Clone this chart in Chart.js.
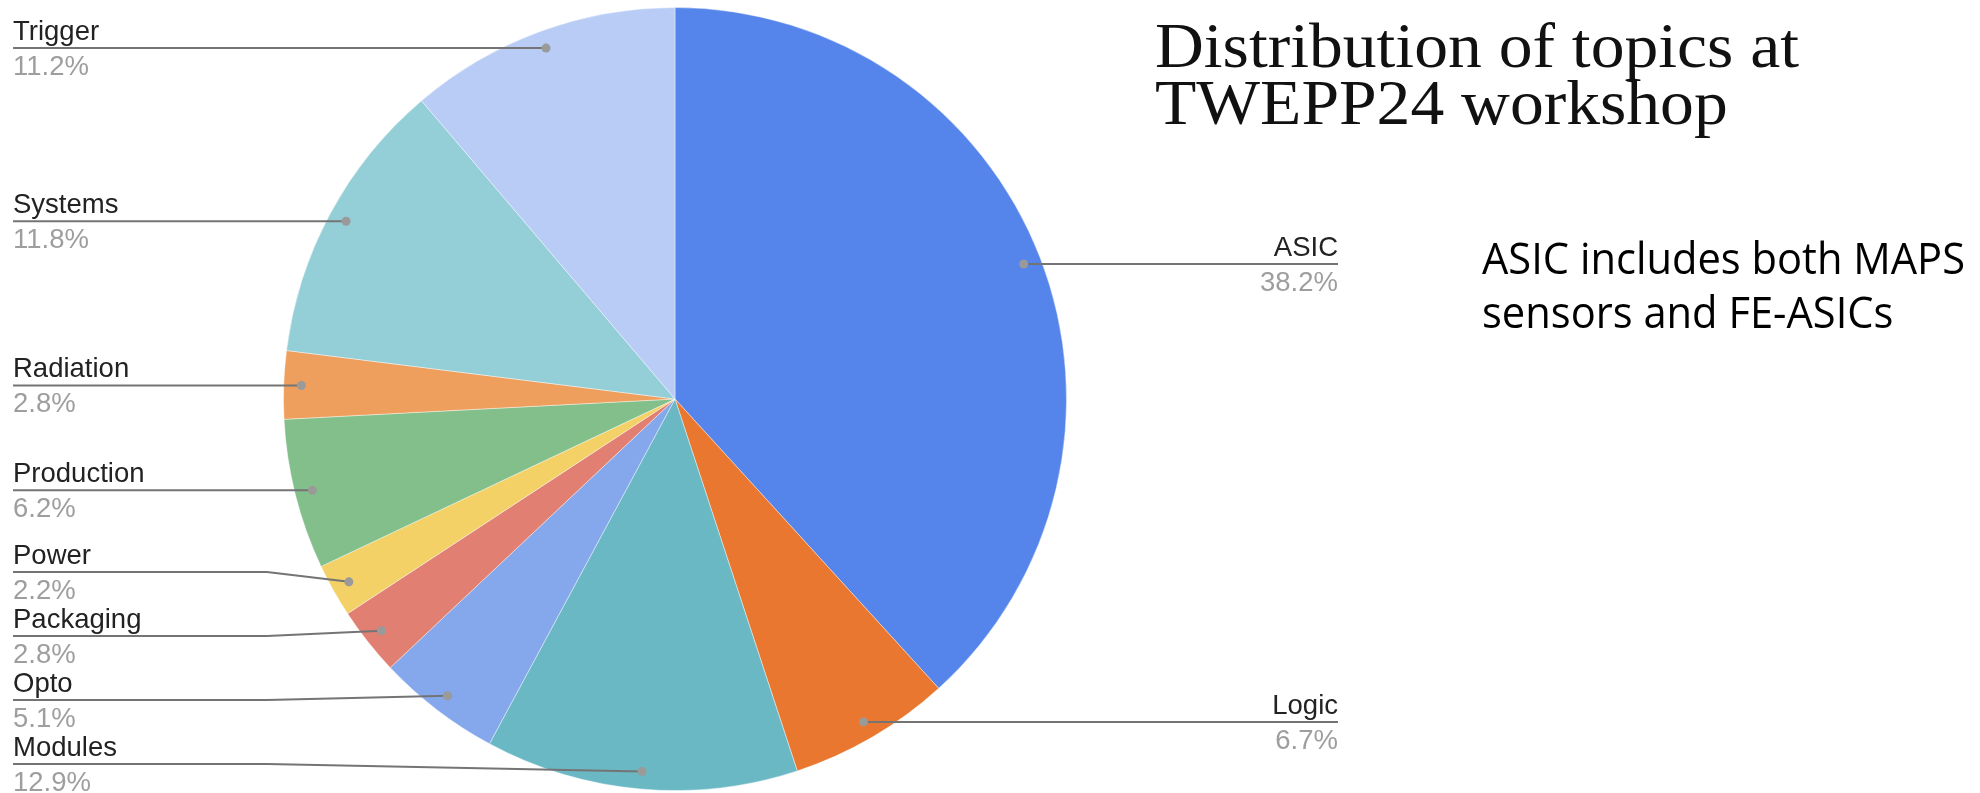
<!DOCTYPE html>
<html>
<head>
<meta charset="utf-8">
<script src="https://cdn.jsdelivr.net/npm/chart.js@4.4.1/dist/chart.umd.min.js"></script>
<style>
  body { margin: 0; background: #fff; }
  #wrap { width: 1980px; height: 793px; position: relative; }
</style>
</head>
<body>
<div id="wrap"><canvas id="topicsChart"></canvas></div>
<script>
// slices go clockwise from 12 o'clock
const topics = ['ASIC', 'Logic', 'Modules', 'Opto', 'Packaging', 'Power', 'Production', 'Radiation', 'Systems', 'Trigger'];
const shares = [38.2, 6.7, 12.9, 5.1, 2.8, 2.2, 6.2, 2.8, 11.8, 11.2];
const sliceColors = ['#5585ea', '#ea772f', '#6ab8c4', '#85a7ec', '#e07f72', '#f3d166', '#83bf8a', '#ef9f5d', '#94ced6', '#b8ccf5'];
const titleLines = ['Distribution of topics at', 'TWEPP24 workshop'];
const noteLines = ['ASIC includes both MAPS', 'sensors and FE-ASICs'];

function spread(items) {
    var gap = 64, minY = 46, maxY = 764;
    items.sort((a, b) => a.y - b.y);
    for (var k = 0; k < items.length; k++) {
        items[k].y = Math.max(items[k].y, minY);
        if (k > 0) items[k].y = Math.max(items[k].y, items[k - 1].y + gap);
    }
    for (var k = items.length - 1; k >= 0; k--) {
        if (k === items.length - 1) items[k].y = Math.min(items[k].y, maxY);
        else items[k].y = Math.min(items[k].y, items[k + 1].y - gap);
    }
}

function scaledText(ctx, text, x, y, sx) {
    ctx.save();
    ctx.translate(x, y);
    ctx.scale(sx, 1);
    ctx.fillText(text, 0, 0);
    ctx.restore();
}

const leaderLabels = {
    id: 'leaderLabels',
    afterDatasetsDraw(chart) {
        var ctx = chart.ctx;
        var arcs = chart.getDatasetMeta(0).data;
        var left = [], right = [];
        var cx = 0;
        arcs.forEach((arc, i) => {
            var p = arc.getProps(['x', 'y', 'startAngle', 'endAngle', 'outerRadius'], true);
            var mid = (p.startAngle + p.endAngle) / 2;
            var r = p.outerRadius * 0.955;
            var dot = { x: p.x + Math.cos(mid) * r, y: p.y + Math.sin(mid) * r };
            cx = p.x;
            var item = { i: i, dot: dot, y: dot.y };
            if (Math.cos(mid) >= 0) right.push(item); else left.push(item);
        });
        spread(left);
        spread(right);

        var leftX = 13, rightX = 1338, kinkL = 267, kinkR = 2 * cx - 267;
        ctx.save();
        ctx.lineWidth = 2;
        ctx.strokeStyle = '#747474';
        left.concat(right).forEach(item => {
            var isLeft = left.indexOf(item) >= 0;
            var endX = isLeft ? leftX : rightX;
            ctx.beginPath();
            ctx.moveTo(endX, item.y);
            if (Math.abs(item.y - item.dot.y) > 1.5) ctx.lineTo(isLeft ? kinkL : kinkR, item.y);
            ctx.lineTo(item.dot.x, item.dot.y);
            ctx.stroke();

            ctx.fillStyle = '#9a9a9a';
            ctx.beginPath();
            ctx.arc(item.dot.x, item.dot.y, 4.5, 0, Math.PI * 2);
            ctx.fill();

            ctx.textAlign = isLeft ? 'left' : 'right';
            ctx.textBaseline = 'alphabetic';
            ctx.font = '27.5px "Liberation Sans", Arial, sans-serif';
            ctx.fillStyle = '#222222';
            ctx.fillText(topics[item.i], endX, item.y - 8);
            ctx.fillStyle = '#9e9e9e';
            ctx.fillText(shares[item.i].toFixed(1) + '%', endX, item.y + 27);
        });
        ctx.restore();

        // title on the right
        ctx.save();
        ctx.textAlign = 'left';
        ctx.textBaseline = 'alphabetic';
        ctx.fillStyle = '#111111';
        ctx.font = '63px "Liberation Serif", "Times New Roman", serif';
        var sx = 644 / ctx.measureText(titleLines[0]).width;
        scaledText(ctx, titleLines[0], 1155, 67, sx);
        scaledText(ctx, titleLines[1], 1155, 124, sx);

        ctx.fillStyle = '#000000';
        ctx.font = '43px "Open Sans", sans-serif';
        var nx = 483 / ctx.measureText(noteLines[0]).width;
        scaledText(ctx, noteLines[0], 1482, 274, nx);
        scaledText(ctx, noteLines[1], 1482, 328, nx);
        ctx.restore();
    }
};

new Chart(document.getElementById('topicsChart'), {
    type: 'pie',
    data: {
        labels: topics,
        datasets: [{
            data: shares,
            backgroundColor: sliceColors,
            borderColor: 'rgba(255,255,255,0.4)',
            borderWidth: 1
        }]
    },
    options: {
        responsive: true,
        maintainAspectRatio: false,
        animation: false,
        layout: { padding: { left: 283, right: 913, top: 7, bottom: 2 } },
        plugins: {
            legend: { display: false },
            tooltip: { enabled: false }
        }
    },
    plugins: [leaderLabels]
});
</script>
</body>
</html>
